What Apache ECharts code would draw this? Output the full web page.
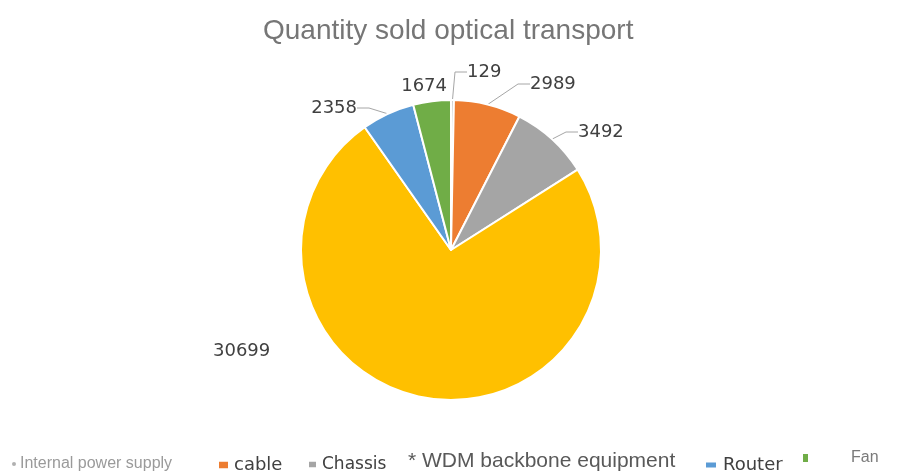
<!DOCTYPE html>
<html>
<head>
<meta charset="utf-8">
<title>Quantity sold optical transport</title>
<script src="https://cdn.jsdelivr.net/npm/echarts@6/dist/echarts.min.js"></script>
<style>
  html, body { margin: 0; padding: 0; background: #ffffff; }
  #chart { width: 922px; height: 471px; }
</style>
</head>
<body>
<div id="chart"></div>
<script>
// Product categories and quantities sold
const categories = ['Internal power supply', 'cable', 'Chassis', 'WDM backbone equipment', 'Router', 'Fan'];
const quantities = [129, 2989, 3492, 30699, 2358, 1674];
const sliceColors = ['#C9C9C9', '#ED7D31', '#A5A5A5', '#FFC000', '#5B9BD5', '#70AD47'];

// Where each value label sits (anchor point and which side it grows from)
const labelSpots = {
  'Internal power supply': { x: 467, y: 72, align: 'left' },
  'cable': { x: 530, y: 84, align: 'left' },
  'Chassis': { x: 578, y: 132, align: 'left' },
  'WDM backbone equipment': { x: 213, y: 351, align: 'left' },
  'Router': { x: 357, y: 108, align: 'right' },
  'Fan': { x: 447, y: 86, align: 'right' }
};
const noLeader = ['WDM backbone equipment', 'Fan'];

const chart = echarts.init(document.getElementById('chart'), null, { renderer: 'canvas' });

const pieData = categories.map((name, i) => {
  const item = { name: name, value: quantities[i], itemStyle: { color: sliceColors[i] } };
  if (noLeader.indexOf(name) >= 0) {
    item.labelLine = { show: false };
  }
  return item;
});

// Legend markers are plain rectangles of a fixed shape
function box(w, h) {
  return 'path://M0,0 L' + w + ',0 L' + w + ',' + h + ' L0,' + h + ' Z';
}

// One legend block per entry so each can carry its own look
const legendFont = 'DejaVu Sans';
const legends = [
  { left: 10, top: 456, data: [{ name: 'Internal power supply', icon: 'circle', itemStyle: { color: '#B0B0B0' } }],
    itemWidth: 6, itemHeight: 6,
    textStyle: { fontFamily: 'Liberation Sans', fontSize: 16, color: '#9a9a9a', padding: [0, 0, 0, -2] } },
  { left: 217, top: 456, data: [{ name: 'cable', icon: box(9, 7) }],
    itemWidth: 11, itemHeight: 10,
    textStyle: { fontFamily: legendFont, fontSize: 18, color: '#404040', padding: [0, 0, 0, 0] } },
  { left: 307, top: 456, data: [{ name: 'Chassis', icon: box(7, 6) }],
    itemWidth: 9, itemHeight: 9,
    textStyle: { fontFamily: legendFont, fontSize: 17, color: '#404040', padding: [0, 0, 0, 0] } },
  { left: 403, top: 451, data: [{ name: 'WDM backbone equipment', icon: 'none' }],
    itemWidth: 0, itemHeight: 6,
    formatter: '* {name}',
    textStyle: { fontFamily: 'Liberation Sans', fontSize: 21, color: '#595959' } },
  { left: 704, top: 456, data: [{ name: 'Router', icon: box(10, 6) }],
    itemWidth: 12, itemHeight: 9,
    textStyle: { fontFamily: legendFont, fontSize: 18, color: '#404040', padding: [0, 0, 0, 1] } },
  { left: 801, top: 450, data: [{ name: 'Fan', icon: box(5, 7) }],
    itemWidth: 7, itemHeight: 10,
    textStyle: { fontFamily: 'Liberation Sans', fontSize: 16, color: '#7a7a7a', padding: [0, 0, 26, 37] } }
].map(l => Object.assign({ orient: 'horizontal', padding: 0, selectedMode: false }, l));

chart.setOption({
  backgroundColor: '#ffffff',
  animation: false,
  title: {
    text: 'Quantity sold optical transport',
    left: 263,
    top: 17,
    padding: 0,
    textStyle: { fontFamily: 'Liberation Sans', fontSize: 28, fontWeight: 'normal', color: '#767676' }
  },
  legend: legends,
  series: [{
    type: 'pie',
    center: [451, 250],
    radius: 150,
    startAngle: 90,
    clockwise: true,
    avoidLabelOverlap: false,
    itemStyle: { borderColor: '#ffffff', borderWidth: 2 },
    label: {
      show: true,
      position: 'outside',
      formatter: '{c}',
      fontFamily: 'DejaVu Sans',
      fontSize: 18,
      color: '#404040'
    },
    labelLine: {
      show: true,
      length: 14,
      length2: 12,
      lineStyle: { color: '#A6A6A6', width: 1 }
    },
    labelLayout: function (params) {
      const spot = labelSpots[categories[params.dataIndex]];
      return { x: spot.x, y: spot.y, align: spot.align, verticalAlign: 'middle' };
    },
    emphasis: { disabled: true },
    data: pieData
  }]
});
</script>
</body>
</html>
